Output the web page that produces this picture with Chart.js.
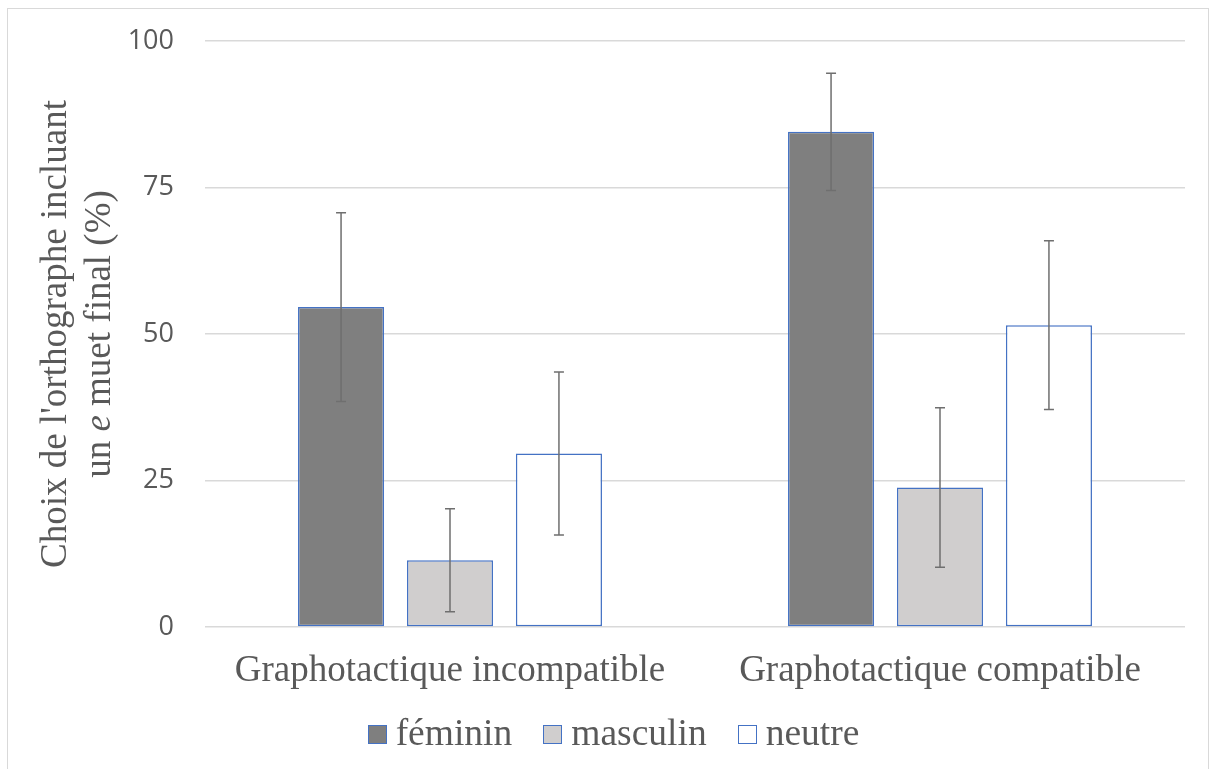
<!DOCTYPE html>
<html>
<head>
<meta charset="utf-8">
<script src="https://cdn.jsdelivr.net/npm/chart.js@4/dist/chart.umd.min.js"></script>
<style>
  html, body { margin: 0; padding: 0; background: #fff; }
  #wrap { position: relative; width: 1215px; height: 769px; overflow: hidden; }
  #frame { position: absolute; left: 7px; top: 8px; width: 1202px; height: 800px;
           border: 1.5px solid #d9d9d9; border-bottom: none; box-sizing: border-box; }
  canvas { position: absolute; left: 0; top: 0; }
  #legend { position: absolute; left: 6px; width: 1215px; top: 711px; text-align: center;
            font-family: "Liberation Serif", "DejaVu Serif", serif; font-size: 37.5px; color: #595959; }
  #legend .item { display: inline-block; margin: 0 15.5px; white-space: nowrap; }
  #legend .box { display: inline-block; width: 17px; height: 17px; border: 1.5px solid #4472C4;
                 margin-right: 9px; vertical-align: 1px; }
</style>
</head>
<body>
<div id="wrap">
  <div id="frame"></div>
  <canvas id="chart" width="1215" height="769"></canvas>
  <div id="legend"></div>
</div>
<script>
// Données
const categories = ['Graphotactique incompatible', 'Graphotactique compatible'];
const seriesNames = ['féminin', 'masculin', 'neutre'];
const feminin = [54.6, 84.5];
const masculin = [11.4, 23.8];
const neutre = [29.6, 51.5];
const errFeminin = [16.1, 10.0];
const errMasculin = [8.8, 13.6];
const errNeutre = [13.9, 14.4];
const yTicks = [0, 25, 50, 75, 100];

const fills = ['#7f7f7f', '#d0cece', '#ffffff'];
const serif = '"Liberation Serif", "DejaVu Serif", serif';

// Barres d'erreur
const errorBars = {
  id: 'errorBars',
  afterDatasetsDraw(chart) {
    const ctx = chart.ctx;
    const y = chart.scales.y;
    ctx.save();
    ctx.strokeStyle = '#6f6f6f';
    ctx.lineWidth = 1.5;
    chart.data.datasets.forEach((ds, i) => {
      const meta = chart.getDatasetMeta(i);
      meta.data.forEach((bar, j) => {
        const v = ds.data[j];
        const e = ds.errors[j];
        const top = y.getPixelForValue(v + e);
        const bot = y.getPixelForValue(v - e);
        ctx.beginPath();
        ctx.moveTo(bar.x, top); ctx.lineTo(bar.x, bot);
        ctx.moveTo(bar.x - 5, top); ctx.lineTo(bar.x + 5, top);
        ctx.moveTo(bar.x - 5, bot); ctx.lineTo(bar.x + 5, bot);
        ctx.stroke();
      });
    });
    ctx.restore();
  }
};

// Titre de l'axe Y (avec le e en italique)
const yTitle = {
  id: 'yTitle',
  afterDraw(chart) {
    const ctx = chart.ctx;
    const area = chart.chartArea;
    const cy = (area.top + area.bottom) / 2;
    ctx.save();
    ctx.fillStyle = '#595959';
    ctx.textBaseline = 'middle';
    ctx.translate(56, cy);
    ctx.rotate(-Math.PI / 2);
    ctx.font = '37px ' + serif;
    ctx.textAlign = 'center';
    ctx.fillText("Choix de l'orthographe incluant", 0, 0);

    const parts = [['un ', ''], ['e', 'italic '], [' muet final (%)', '']];
    let w = 0;
    parts.forEach(p => { ctx.font = p[1] + '37px ' + serif; w += ctx.measureText(p[0]).width; });
    let x = -w / 2;
    ctx.textAlign = 'left';
    parts.forEach(p => {
      ctx.font = p[1] + '37px ' + serif;
      ctx.fillText(p[0], x, 44);
      x += ctx.measureText(p[0]).width;
    });
    ctx.restore();
  }
};

const datasets = [feminin, masculin, neutre].map((d, i) => ({
  label: seriesNames[i],
  data: d,
  errors: [errFeminin, errMasculin, errNeutre][i],
  backgroundColor: fills[i],
  borderColor: '#4472C4',
  borderWidth: 1.5,
  borderSkipped: false,
  categoryPercentage: 0.667,
  barPercentage: 0.79
}));

const chart = new Chart(document.getElementById('chart'), {
  type: 'bar',
  data: { labels: categories, datasets },
  options: {
    responsive: false,
    animation: false,
    layout: { padding: { top: 41, right: 30, left: 0, bottom: 0 } },
    plugins: { legend: { display: false }, tooltip: { enabled: false } },
    scales: {
      x: {
        grid: { display: false },
        border: { display: false },
        ticks: { color: '#595959', font: { family: serif, size: 37 }, padding: 14 },
        afterFit(s) { s.height = 142; }
      },
      y: {
        min: 0, max: 100,
        afterBuildTicks(s) { s.ticks = yTicks.map(v => ({ value: v })); },
        grid: { color: '#d9d9d9', lineWidth: 1.5, drawTicks: false },
        border: { display: false },
        ticks: { color: '#595959', font: { family: '"Open Sans", sans-serif', size: 27 }, padding: 31 },
        afterFit(s) { s.width = 205; s.paddingTop = 0; s.paddingBottom = 0; }
      }
    }
  },
  plugins: [errorBars, yTitle]
});

// Légende HTML
const legendEl = document.getElementById('legend');
chart.data.datasets.forEach(ds => {
  const item = document.createElement('span');
  item.className = 'item';
  const box = document.createElement('span');
  box.className = 'box';
  box.style.background = ds.backgroundColor;
  item.appendChild(box);
  item.appendChild(document.createTextNode(ds.label));
  legendEl.appendChild(item);
});
</script>
</body>
</html>
